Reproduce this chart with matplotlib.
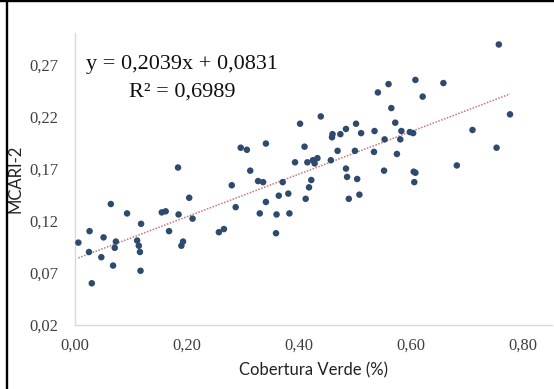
import matplotlib
matplotlib.use("Agg")
import matplotlib.pyplot as plt
from matplotlib.lines import Line2D
import numpy as np

# Green cover fraction vs. MCARI-2 index
cobertura = [
    0.006, 0.026, 0.025, 0.030, 0.051, 0.047, 0.064, 0.073, 0.071, 0.068,
    0.093, 0.118, 0.111, 0.114, 0.116, 0.117, 0.155, 0.162, 0.168, 0.185,
    0.204, 0.210, 0.193, 0.190, 0.184, 0.257, 0.266, 0.287, 0.280, 0.330,
    0.341, 0.360, 0.359, 0.364, 0.381, 0.296, 0.307, 0.341, 0.313, 0.327,
    0.336, 0.371, 0.393, 0.402, 0.410, 0.415, 0.425, 0.433, 0.428, 0.439,
    0.422, 0.418, 0.412, 0.383, 0.560, 0.608, 0.541, 0.621, 0.565, 0.502,
    0.572, 0.484, 0.460, 0.459, 0.474, 0.511, 0.535, 0.583, 0.598, 0.604,
    0.553, 0.581, 0.469, 0.500, 0.534, 0.575, 0.457, 0.484, 0.486, 0.504,
    0.552, 0.605, 0.608, 0.606, 0.489, 0.508, 0.658, 0.757, 0.777, 0.710,
    0.753, 0.682,
]
mcari2 = [
    0.099, 0.110, 0.090, 0.060, 0.104, 0.085, 0.136, 0.100, 0.094, 0.077,
    0.127, 0.117, 0.101, 0.096, 0.090, 0.072, 0.128, 0.129, 0.110, 0.126,
    0.142, 0.122, 0.100, 0.096, 0.171, 0.109, 0.112, 0.133, 0.154, 0.127,
    0.138, 0.126, 0.108, 0.144, 0.146, 0.190, 0.188, 0.194, 0.168, 0.158,
    0.157, 0.157, 0.176, 0.213, 0.191, 0.176, 0.178, 0.180, 0.175, 0.220,
    0.159, 0.152, 0.141, 0.127, 0.251, 0.255, 0.243, 0.239, 0.228, 0.213,
    0.214, 0.208, 0.203, 0.200, 0.203, 0.204, 0.206, 0.206, 0.205, 0.204,
    0.198, 0.198, 0.187, 0.187, 0.186, 0.184, 0.178, 0.170, 0.162, 0.160,
    0.168, 0.167, 0.166, 0.157, 0.141, 0.145, 0.252, 0.289, 0.222, 0.207,
    0.190, 0.173,
]

# Linear trend (least squares fit reported on the chart)
slope = 0.2039
intercept = 0.0831
r2 = 0.6989

x_ticks = [0.0, 0.2, 0.4, 0.6, 0.8]
y_ticks = [0.02, 0.07, 0.12, 0.17, 0.22, 0.27]

fig = plt.figure(figsize=(5.54, 3.89), dpi=100)
ax = fig.add_axes([75 / 554, 1 - 325 / 389, (552 - 75) / 554, (325 - 33) / 389])

ax.scatter(cobertura, mcari2, s=22, color="#2E4B6E", edgecolors="none", zorder=3)

xs = np.array([min(cobertura), max(cobertura)])
ax.plot(xs, slope * xs + intercept, linestyle=(0, (1, 1)), color="#C9757A",
        linewidth=1.1, zorder=2)

ax.set_xlim(0, 0.852)
ax.set_ylim(0.02, 0.30)
ax.set_xticks(x_ticks)
ax.set_yticks(y_ticks)
ax.set_xticklabels([f"{v:.2f}".replace(".", ",") for v in x_ticks],
                   fontfamily="Liberation Serif", fontsize=12, color="#404040")
ax.set_yticklabels([f"{v:.2f}".replace(".", ",") for v in y_ticks],
                   fontfamily="Liberation Serif", fontsize=12, color="#404040")
ax.tick_params(length=0, pad=12)
ax.tick_params(axis="x", pad=9)

for side in ("top", "right"):
    ax.spines[side].set_visible(False)
for side in ("left", "bottom"):
    ax.spines[side].set_color("#D9D9D9")
    ax.spines[side].set_linewidth(1.0)

ax.set_xlabel("Cobertura Verde (%)", fontfamily="Lato", fontsize=12, color="#222222",
              labelpad=6)
ax.set_ylabel("MCARI-2", fontfamily="Lato", fontsize=12, color="#222222")
ax.yaxis.set_label_coords((24 - 75) / 477, 0.5)

eq = f"y = {slope:.4f}x + {intercept:.4f}".replace(".", ",")
r2_txt = f"R² = {r2:.4f}".replace(".", ",")
fig.text(182 / 554, 1 - 65 / 389, eq, ha="center", va="center",
         fontfamily="Liberation Serif", fontsize=16, color="#111111")
fig.text(182 / 554, 1 - 92 / 389, r2_txt, ha="center", va="center",
         fontfamily="Liberation Serif", fontsize=16, color="#111111")

# Black frame edges on the left and top
fig.add_artist(Line2D([7 / 554, 7 / 554], [0, 1], transform=fig.transFigure,
                      color="black", linewidth=1.7))
fig.add_artist(Line2D([0, 1], [1 - 1 / 389, 1 - 1 / 389], transform=fig.transFigure,
                      color="black", linewidth=1.7))

fig.savefig("out.png", dpi=100)
